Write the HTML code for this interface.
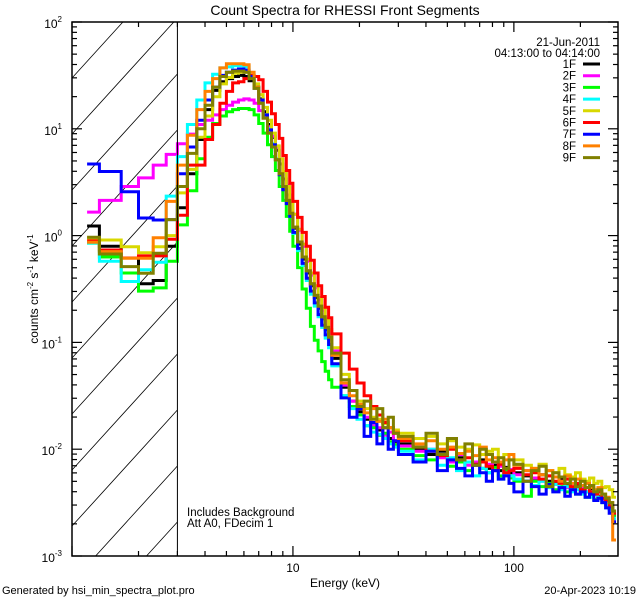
<!DOCTYPE html>
<html><head><meta charset="utf-8">
<style>
html,body{margin:0;padding:0;background:#fff;width:640px;height:600px;overflow:hidden;}
svg{display:block;font-family:"Liberation Sans",sans-serif;}
</style></head>
<body>
<svg id="chart" width="640" height="600" viewBox="0 0 640 600">
  <defs><clipPath id="pc"><rect x="72" y="22" width="546" height="534"/></clipPath></defs>
  <rect width="640" height="600" fill="#fff"/>
  <text x="345" y="15" text-anchor="middle" font-size="14">Count Spectra for RHESSI Front Segments</text>
  <g id="hatch"></g>
  <g id="series" clip-path="url(#pc)"></g>
  <g id="axes"></g>
  <text x="345" y="587" text-anchor="middle" font-size="12">Energy (keV)</text>
  <text transform="translate(38,289) rotate(-90)" text-anchor="middle" font-size="12">counts cm<tspan dy="-5" font-size="8">-2</tspan><tspan dy="5"> s</tspan><tspan dy="-5" font-size="8">-1</tspan><tspan dy="5"> keV</tspan><tspan dy="-5" font-size="8">-1</tspan></text>
  <text x="2" y="594" font-size="11">Generated by hsi_min_spectra_plot.pro</text>
  <text x="636" y="594" text-anchor="end" font-size="11">20-Apr-2023 10:19</text>
  <text x="187" y="516" font-size="11.5">Includes Background</text>
  <text x="187" y="527" font-size="11.5">Att A0, FDecim 1</text>
  <text x="600" y="46" text-anchor="end" font-size="11.5">21-Jun-2011</text>
  <text x="600" y="57" text-anchor="end" font-size="11.5">04:13:00 to 04:14:00</text>
  <g id="legend"></g>
</svg>
<script>
const edges=[1.17,1.33,1.67,2,2.33,2.67,3,3.33,3.67,4,4.33,4.67,5,5.33,5.67,6,6.33,6.67,7,7.33,7.67,8,8.33,8.67,9,9.33,9.67,10,10.5,11,11.5,12,12.5,13,13.5,14,14.5,15,16.5,18,19.5,21,22.5,24,25.5,27,28.5,30,35,40,45,50,55,60,65,70,75,80,85,90,95,100,110,120,130,140,150,160,170,180,190,200,210,220,230,240,250,260,270,280,290,296];
const labels=["1F","2F","3F","4F","5F","6F","7F","8F","9F"];
const colors=["#000000","#ff00ff","#00ff00","#00ffff","#d8d800","#ff0000","#0000ff","#ff8000","#808000"];
const log1F=[0.09,-0.10,-0.21,-0.45,-0.42,-0.10, 0.26,0.58,0.90,1.18,1.36,1.44,1.47,1.49,1.50,1.49,1.45,1.38,1.28,1.16,1.04,0.92,0.80,0.67,0.53,0.38,0.24, 0.07,-0.08,-0.22,-0.35,-0.47,-0.58,-0.68,-0.78,-0.88,-0.97, -1.15,-1.42,-1.55,-1.65,-1.72,-1.78,-1.82,-1.86,-1.9,-1.93, -1.95,-2.0,-2.05,-2.02,-2.1,-2.08,-2.12,-2.15,-2.1,-2.18,-2.15,-2.2,-2.17,-2.22, -2.22,-2.25,-2.28,-2.24,-2.3,-2.32,-2.28,-2.34,-2.36,-2.33,-2.38,-2.4,-2.37,-2.42,-2.44,-2.46,-2.5,-2.55,-2.58];
const log2F=[0.22,0.33,0.46,0.54,0.66,0.76, 0.86,0.95,1.04,1.08,1.13,1.18,1.22,1.25,1.27,1.28,1.27,1.24,1.17,1.10,1.02,0.93,0.83,0.72,0.60,0.47,0.34, 0.20,0.05,-0.10,-0.24,-0.37,-0.49,-0.60,-0.70,-0.80,-0.90, -1.08,-1.40,-1.55,-1.62,-1.70,-1.78,-1.80,-1.87,-1.84,-1.92, -1.97,-2.02,-2.0,-2.08,-2.12,-2.05,-2.15,-2.12,-2.18,-2.14,-2.2,-2.16,-2.22,-2.19, -2.24,-2.2,-2.27,-2.3,-2.25,-2.33,-2.3,-2.36,-2.32,-2.38,-2.35,-2.4,-2.43,-2.39,-2.45,-2.48,-2.5,-2.53,-2.6];
const log3F=[-0.07,-0.20,-0.35,-0.52,-0.49,-0.24, 0.10,0.42,0.72,0.92,1.05,1.12,1.16,1.18,1.19,1.19,1.18,1.13,1.05,0.96,0.85,0.74,0.61,0.46,0.33,0.18,0.04, -0.10,-0.30,-0.50,-0.68,-0.85,-0.98,-1.08,-1.18,-1.27,-1.35, -1.42,-1.5,-1.6,-1.68,-1.78,-1.8,-1.87,-1.85,-1.93,-1.96, -2.0,-2.06,-2.1,-2.05,-2.16,-2.12,-2.2,-2.14,-2.18,-2.22,-2.17,-2.25,-2.2,-2.27, -2.3,-2.44,-2.3,-2.35,-2.32,-2.38,-2.35,-2.4,-2.37,-2.42,-2.4,-2.45,-2.43,-2.47,-2.45,-2.5,-2.52,-2.56,-2.62];
const log4F=[-0.07,-0.24,-0.43,-0.32,-0.25,0.37, 0.74,1.04,1.27,1.43,1.51,1.57,1.58,1.59,1.59,1.58,1.50,1.39,1.27,1.13,1.0,0.86,0.72,0.58,0.45,0.31,0.18, 0.02,-0.14,-0.28,-0.42,-0.55,-0.66,-0.76,-0.86,-0.96,-1.05, -1.22,-1.5,-1.62,-1.72,-1.78,-1.84,-1.86,-1.9,-1.95,-1.98, -2.02,-2.1,-2.0,-2.15,-2.08,-2.2,-2.12,-2.25,-2.18,-2.22,-2.2,-2.28,-2.22,-2.25, -2.28,-2.3,-2.34,-2.3,-2.36,-2.33,-2.38,-2.35,-2.4,-2.38,-2.42,-2.4,-2.45,-2.42,-2.46,-2.44,-2.52,-2.56,-2.65];
const log5F=[-0.025,-0.041,-0.104,-0.16,-0.104,0.0, 0.40,0.62,0.92,1.12,1.30,1.42,1.48,1.52,1.53,1.53,1.50,1.42,1.32,1.20,1.08,0.96,0.84,0.72,0.60,0.46,0.33, 0.20,0.06,-0.08,-0.22,-0.35,-0.47,-0.58,-0.68,-0.78,-0.88, -1.05,-1.3,-1.45,-1.55,-1.62,-1.7,-1.72,-1.76,-1.8,-1.82, -1.85,-1.9,-1.88,-1.95,-1.92,-1.98,-2.0,-1.96,-2.05,-2.02,-2.0,-2.08,-2.05,-2.1, -2.1,-2.15,-2.18,-2.14,-2.2,-2.22,-2.18,-2.24,-2.26,-2.22,-2.28,-2.3,-2.27,-2.32,-2.3,-2.36,-2.35,-2.38,-2.45];
const log6F=[-0.05,-0.135,-0.21,-0.19,-0.19,-0.035, 0.19,0.66,0.66,0.90,1.04,1.24,1.35,1.43,1.44,1.47,1.50,1.49,1.46,1.35,1.25,1.14,1.04,0.91,0.75,0.61,0.49, 0.32,0.17,0.03,-0.10,-0.23,-0.35,-0.47,-0.57,-0.67,-0.77, -0.92,-1.1,-1.25,-1.38,-1.5,-1.6,-1.68,-1.75,-1.8,-1.85, -1.92,-1.98,-2.02,-2.06,-2.0,-2.1,-2.08,-2.14,-2.12,-2.16,-2.2,-2.14,-2.22,-2.2, -2.18,-2.24,-2.22,-2.28,-2.25,-2.3,-2.32,-2.28,-2.35,-2.32,-2.38,-2.36,-2.4,-2.42,-2.4,-2.46,-2.48,-2.54,-2.6];
const log7F=[0.67,0.60,0.41,0.165,0.146,0.15, 0.58,0.83,1.08,1.27,1.39,1.50,1.53,1.55,1.56,1.55,1.49,1.39,1.27,1.13,0.99,0.85,0.71,0.57,0.43,0.30,0.18, 0.03,-0.12,-0.26,-0.40,-0.52,-0.63,-0.74,-0.84,-0.93,-1.02, -1.2,-1.52,-1.7,-1.62,-1.88,-1.75,-1.95,-1.8,-2.0,-1.92, -2.05,-2.12,-2.02,-2.2,-2.1,-2.18,-2.25,-2.15,-2.22,-2.3,-2.2,-2.28,-2.25,-2.32, -2.4,-2.3,-2.35,-2.42,-2.33,-2.4,-2.36,-2.44,-2.38,-2.42,-2.4,-2.45,-2.42,-2.48,-2.46,-2.5,-2.55,-2.6,-2.68];
const log8F=[-0.063,-0.15,-0.213,-0.213,-0.02,0.32, 0.66,0.94,1.18,1.35,1.47,1.57,1.61,1.61,1.61,1.60,1.53,1.39,1.24,1.10,0.96,0.83,0.71,0.58,0.46,0.33,0.21, 0.08,-0.06,-0.20,-0.33,-0.45,-0.56,-0.66,-0.76,-0.86,-0.95, -1.12,-1.38,-1.5,-1.58,-1.66,-1.62,-1.74,-1.72,-1.8,-1.84, -1.9,-1.95,-1.92,-2.0,-1.98,-2.04,-2.02,-2.06,-1.98,-2.1,-2.08,-2.12,-2.1,-2.05, -2.15,-2.2,-2.18,-2.24,-2.2,-2.26,-2.3,-2.25,-2.32,-2.28,-2.34,-2.32,-2.36,-2.38,-2.36,-2.42,-2.45,-2.5,-2.85];
const log9F=[-0.016,-0.172,-0.29,-0.353,-0.166,0.15, 0.46,0.77,1.0,1.22,1.39,1.49,1.53,1.54,1.54,1.53,1.47,1.38,1.24,1.10,0.96,0.83,0.71,0.58,0.46,0.33,0.21, 0.08,-0.06,-0.20,-0.33,-0.45,-0.56,-0.66,-0.76,-0.86,-0.95, -1.1,-1.35,-1.45,-1.6,-1.55,-1.72,-1.62,-1.8,-1.7,-1.85, -1.88,-1.98,-1.85,-2.05,-1.9,-2.1,-1.95,-2.15,-2.0,-2.05,-2.12,-2.08,-2.18,-2.1, -2.14,-2.3,-2.2,-2.16,-2.35,-2.22,-2.26,-2.32,-2.28,-2.35,-2.3,-2.36,-2.34,-2.4,-2.38,-2.42,-2.46,-2.5,-2.58];
const allSeries=[log1F,log2F,log3F,log4F,log5F,log6F,log7F,log8F,log9F];
const xTickValues=[10,100];
const xTickLabels=["10","100"];
const yTickExps=[-3,-2,-1,0,1,2];

const NS="http://www.w3.org/2000/svg";
const L=72,R=618,T=22,B=556,XMIN=1,XMAX=296,YMIN=-3,YMAX=2;
function sx(e){return L+(Math.log10(e)-Math.log10(XMIN))/(Math.log10(XMAX)-Math.log10(XMIN))*(R-L);}
function sy(lg){return B-(lg-YMIN)/(YMAX-YMIN)*(B-T);}
function mk(tag,attrs,parent){const el=document.createElementNS(NS,tag);for(const k in attrs)el.setAttribute(k,attrs[k]);parent.appendChild(el);return el;}

// hatch lines manually clipped to region x 72..177, y 22..556; y = c - 1.1*(x-72)
const hatch=document.getElementById('hatch');
const HX1=72,HX2=sx(3),SL=1.1;
for(let c=22;c<556+SL*(HX2-HX1)+56;c+=56){
  let xa=HX1,ya=c,xb=HX2,yb=c-SL*(HX2-HX1);
  if(ya>B){xa=HX1+(c-B)/SL;ya=B;}
  if(yb<T){xb=HX1+(c-T)/SL;yb=T;}
  if(xa>=xb)continue;
  const ln=mk('line',{x1:xa.toFixed(1),y1:ya.toFixed(1),x2:xb.toFixed(1),y2:yb.toFixed(1),stroke:'#000','stroke-width':0.8},hatch);
  
  
}
const vline=mk('line',{x1:sx(3),y1:T,x2:sx(3),y2:B,stroke:'#000','stroke-width':1},document.getElementById('chart'));



const sg=document.getElementById('series');
allSeries.forEach((vals,i)=>{
  let d='';
  for(let b=0;b<vals.length;b++){
    const x1=sx(edges[b]),x2=Math.min(sx(edges[b+1]),R),y=sy(vals[b]);
    d+=(b===0?'M':'L')+x1.toFixed(1)+','+y.toFixed(1)+'L'+x2.toFixed(1)+','+y.toFixed(1);
  }
  const p=mk('path',{d:d,fill:'none',stroke:colors[i],'stroke-width':3,'stroke-linejoin':'miter'},sg);
  
  
});

const ax=document.getElementById('axes');
const box=mk('rect',{x:L,y:T,width:R-L,height:B-T,fill:'none',stroke:'#000','stroke-width':1.5},ax);


for(let dec=0;dec<3;dec++){
  for(let m=1;m<10;m++){
    const v=m*Math.pow(10,dec);if(v<XMIN||v>XMAX)continue;
    const x=sx(v),len=(m===1)?10:5;
    const t1=mk('line',{x1:x,y1:B,x2:x,y2:B-len,stroke:'#000','stroke-width':1.2},ax);
    
    
    const t2=mk('line',{x1:x,y1:T,x2:x,y2:T+len,stroke:'#000','stroke-width':1.2},ax);
    
    
  }
}
xTickValues.forEach((v,i)=>{
  const t=mk('text',{x:sx(v),y:572,'text-anchor':'middle','font-size':12},ax);
  t.textContent=xTickLabels[i];
  
  
});
yTickExps.forEach(e=>{
  for(let m=1;m<10;m++){
    const lg=e+Math.log10(m);if(lg>YMAX)continue;
    const y=sy(lg),len=(m===1)?10:5;
    const a=mk('line',{x1:L,y1:y,x2:L+len,y2:y,stroke:'#000','stroke-width':1.2},ax);
    
    
    const b=mk('line',{x1:R,y1:y,x2:R-len,y2:y,stroke:'#000','stroke-width':1.2},ax);
    
    
  }
  const t=mk('text',{x:62,y:sy(e)+6,'text-anchor':'end','font-size':12},ax);
  t.textContent='10';
  const s=mk('tspan',{dy:-6,'font-size':8},t);s.textContent=String(e);
  
  
});

const lg=document.getElementById('legend');
labels.forEach((lab,i)=>{
  const y=64+i*11.7;
  const t=mk('text',{x:576,y:y+4,'text-anchor':'end','font-size':11.5},lg);
  t.textContent=lab;
  
  
  const l=mk('line',{x1:583,y1:y,x2:600,y2:y,stroke:colors[i],'stroke-width':3},lg);
  
  
});
</script>
</body></html>
